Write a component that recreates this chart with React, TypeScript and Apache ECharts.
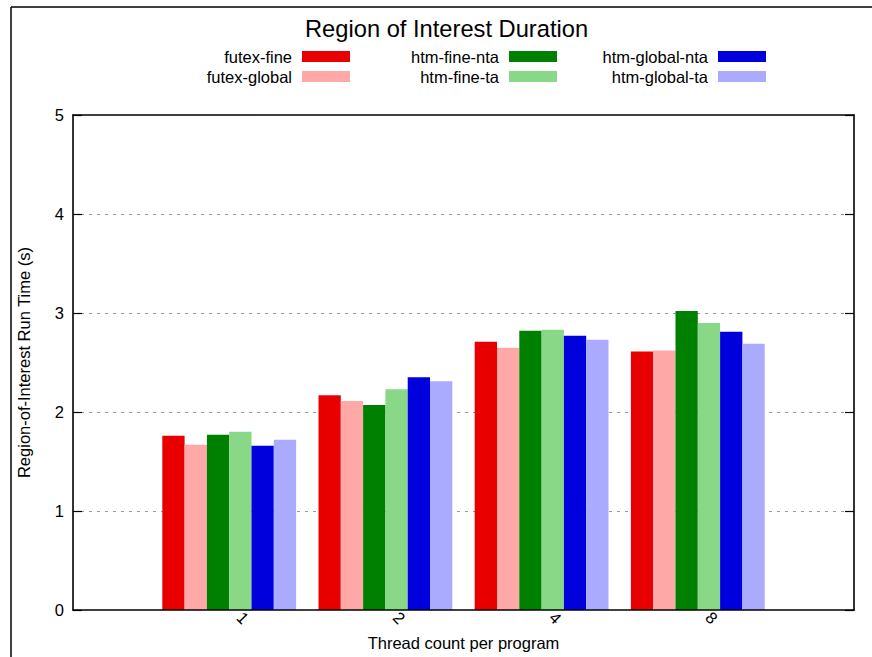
import React, { useEffect, useRef } from "react";
import * as echarts from "echarts";

const categories = ["", "1", "2", "4", "8", ""];
const seriesNames = [
  "futex-fine",
  "futex-global",
  "htm-fine-nta",
  "htm-fine-ta",
  "htm-global-nta",
  "htm-global-ta",
];
const futexFine = [1.76, 2.17, 2.71, 2.61];
const futexGlobal = [1.67, 2.11, 2.65, 2.62];
const htmFineNta = [1.77, 2.07, 2.82, 3.02];
const htmFineTa = [1.8, 2.23, 2.83, 2.9];
const htmGlobalNta = [1.66, 2.35, 2.77, 2.81];
const htmGlobalTa = [1.72, 2.31, 2.73, 2.69];
const seriesValues = [futexFine, futexGlobal, htmFineNta, htmFineTa, htmGlobalNta, htmGlobalTa];
const colors = ["#e80000", "#ffa8a8", "#008000", "#88d888", "#0000dd", "#aaaaff"];
const yTicks = [0, 1, 2, 3, 4, 5];

const FONT = "'Liberation Sans', Arial, sans-serif";

export default function App() {
  const ref = useRef<HTMLDivElement>(null);
  useEffect(() => {
    if (!ref.current) return;
    document.body.style.overflow = "hidden";
    const chart = echarts.init(ref.current, null, { renderer: "svg" });
    const legendBase = (data: string[], right: number) => ({
      data,
      orient: "vertical",
      align: "right",
      right,
      top: 48,
      padding: 0,
      itemWidth: 48,
      itemHeight: 11,
      itemGap: 3,
      icon: "rect",
      selectedMode: false,
      textStyle: { fontSize: 16.5, lineHeight: 14, color: "#000", fontFamily: FONT, padding: [0, 5, 0, 0] },
    });
    const overlayY = (position: string) => ({
      type: "value",
      min: yTicks[0],
      max: yTicks[yTicks.length - 1],
      interval: 1,
      position,
      z: 10,
      axisLine: { show: true, onZero: false, lineStyle: { color: "#000", width: 1.6 } },
      axisTick: { show: true, inside: true, length: 9, lineStyle: { color: "#000", width: 1.2 } },
      axisLabel: { show: false },
      splitLine: { show: false },
    });
    chart.setOption({
      animation: false,
      textStyle: { fontFamily: FONT },
      title: {
        text: "Region of Interest Duration",
        left: 300,
        top: 12,
        textStyle: { fontSize: 23.7, fontWeight: "normal", color: "#000", fontFamily: FONT },
      },
      legend: [
        legendBase([seriesNames[0], seriesNames[1]], 872 - 350),
        legendBase([seriesNames[2], seriesNames[3]], 872 - 557),
        legendBase([seriesNames[4], seriesNames[5]], 872 - 766),
      ],
      graphic: [
        {
          type: "line",
          shape: { x1: 11, y1: 7, x2: 900, y2: 7 },
          style: { stroke: "#000", lineWidth: 1.5 },
          silent: true,
        },
        {
          type: "line",
          shape: { x1: 11, y1: 7, x2: 11, y2: 700 },
          style: { stroke: "#000", lineWidth: 1.5 },
          silent: true,
        },
      ],
      grid: { left: 73, right: 18, top: 115, bottom: 47, outerBoundsMode: "none", containLabel: false },
      xAxis: [
        {
          type: "category",
          data: categories,
          boundaryGap: false,
          position: "bottom",
          z: 10,
          name: "Thread count per program",
          nameLocation: "middle",
          nameGap: 23,
          nameTextStyle: { fontSize: 16.5, color: "#000", fontFamily: FONT },
          axisLine: { show: true, onZero: false, lineStyle: { color: "#000", width: 1.6 } },
          axisTick: { show: false },
          axisLabel: {
            rotate: -45,
            interval: 0,
            margin: -6,
            fontSize: 16.5,
            color: "#000",
            fontFamily: FONT,
            padding: [0, 0, 0, 15],
          },
          splitLine: { show: false },
        },
        {
          type: "category",
          data: categories,
          boundaryGap: false,
          position: "top",
          z: 10,
          axisLine: { show: true, onZero: false, lineStyle: { color: "#000", width: 1.6 } },
          axisTick: { show: false },
          axisLabel: { show: false },
          splitLine: { show: false },
        },
      ],
      yAxis: [
        {
          type: "value",
          min: yTicks[0],
          max: yTicks[yTicks.length - 1],
          interval: 1,
          position: "left",
          name: "Region-of-Interest Run Time (s)",
          nameLocation: "middle",
          nameGap: 41,
          nameTextStyle: { fontSize: 16.5, color: "#000", fontFamily: FONT },
          axisLine: { show: false },
          axisTick: { show: false },
          axisLabel: { fontSize: 16.5, color: "#000", margin: 9, fontFamily: FONT },
          splitLine: {
            show: true,
            showMinLine: false,
            showMaxLine: false,
            lineStyle: { color: "#999", width: 1.2, type: [3, 5] },
          },
        },
        overlayY("left"),
        overlayY("right"),
      ],
      series: seriesNames.map((name, i) => ({
        name,
        type: "bar",
        xAxisIndex: 0,
        yAxisIndex: 0,
        barWidth: 22.3,
        barGap: "0%",
        itemStyle: { color: colors[i] },
        data: [null, ...seriesValues[i], null],
      })),
    });
    return () => chart.dispose();
  }, []);
  return <div ref={ref} style={{ width: 872, height: 657, position: "absolute", left: 0, top: 0 }} />;
}
